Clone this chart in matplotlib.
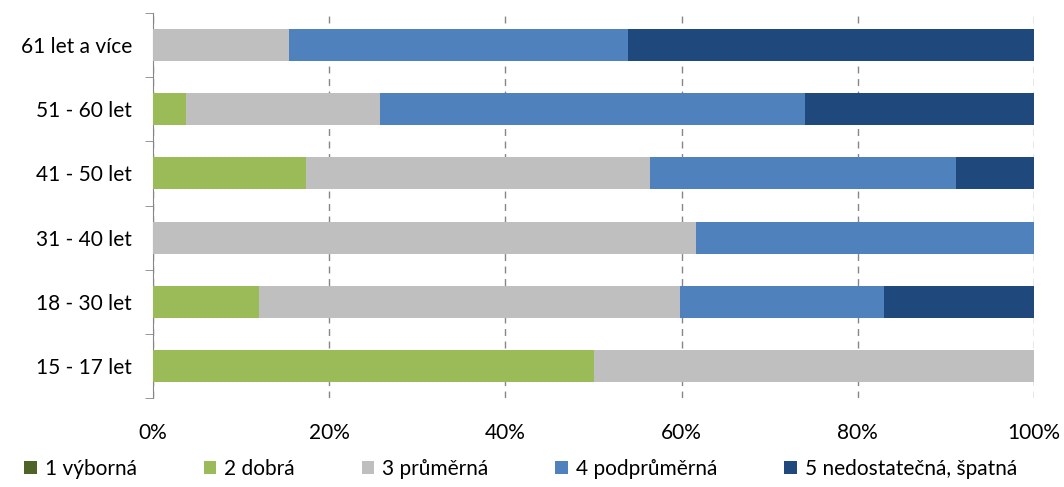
import numpy as np
import matplotlib
matplotlib.use("Agg")
import matplotlib.pyplot as plt

plt.rcParams['font.family'] = ['Lato', 'DejaVu Sans']

# categories bottom -> top
groups = ["15 - 17 let", "18 - 30 let", "31 - 40 let", "41 - 50 let", "51 - 60 let", "61 let a více"]
series = ["1 výborná", "2 dobrá", "3 průměrná", "4 podprůměrná", "5 nedostatečná, špatná"]
colors = ["#4f6228", "#9bbb59", "#bfbfbf", "#4f81bd", "#1f497d"]

vyborna = [0, 0, 0, 0, 0, 0]
dobra = [50.0, 12.0, 0, 17.4, 3.7, 0]
prumerna = [50.0, 47.8, 61.6, 39.0, 22.1, 15.4]
podprumerna = [0, 23.2, 38.4, 34.8, 48.2, 38.5]
nedostatecna = [0, 17.0, 0, 8.8, 26.0, 46.1]

data = [vyborna, dobra, prumerna, podprumerna, nedostatecna]

fig = plt.figure(figsize=(10.64, 4.87), dpi=100)
ax = fig.add_axes([153/1064, 1-398/487, 881/1064, 385/487])

y = np.arange(len(groups))
left = np.zeros(len(groups))
for name, vals, c in zip(series, data, colors):
    vals = np.array(vals)
    ax.barh(y, vals, left=left, height=0.5, color=c, label=name, zorder=3)
    left += vals

ax.set_xlim(0, 100)
ax.set_ylim(-0.5, len(groups) - 0.5)
ax.set_xticks(np.arange(0, 101, 20))
ax.set_xticklabels([f"{v}%" for v in range(0, 101, 20)], fontsize=15)
ax.set_yticks(y)
ax.set_yticklabels(groups, fontsize=15)
ax.set_yticks(np.arange(-0.5, len(groups), 1), minor=True)
ax.tick_params(axis='y', which='major', length=0, pad=15)
ax.tick_params(axis='y', which='minor', length=6, color='#868686', direction='out')
ax.tick_params(axis='x', length=0, pad=18)
ax.grid(axis='x', color='#868686', linestyle=(0, (5, 4)), linewidth=1, zorder=0)

for s in ['top', 'right', 'bottom']:
    ax.spines[s].set_visible(False)
ax.spines['left'].set_color('#868686')

fig.legend(loc='center left', bbox_to_anchor=(24/1064, 1-469/487), ncol=5, frameon=False,
           fontsize=15, handlelength=0.6, handleheight=0.6, handletextpad=0.4,
           columnspacing=3.2, borderaxespad=0, borderpad=0)

fig.savefig("out.png", dpi=100)
